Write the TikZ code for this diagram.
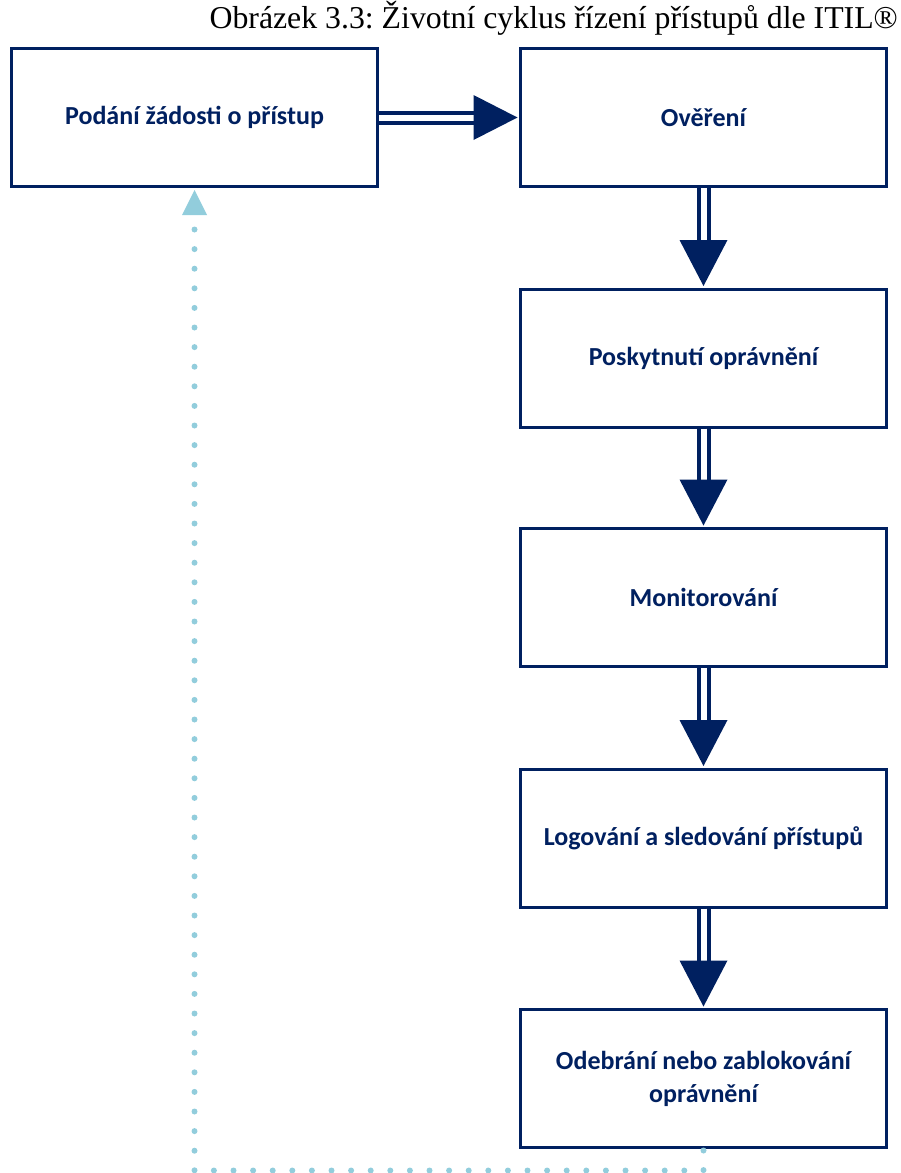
\documentclass[tikz,border=0pt]{standalone}
\usepackage{fontspec}
\setmainfont{Liberation Serif}
\newfontfamily\boxfont{Carlito}
\usetikzlibrary{calc}
\definecolor{navy}{RGB}{0,32,96}
\definecolor{cyanlight}{RGB}{146,205,220}
\frenchspacing
\begin{document}
\begin{tikzpicture}[x=1pt,y=-1pt,
  stepbox/.style={draw=navy,line width=3pt,fill=white,minimum width=366pt,minimum height=138pt,
    inner sep=0pt,align=center,text=navy,font=\boxfont\bfseries\fontsize{26}{33}\selectfont},
  shaft/.style={draw=navy,line width=4pt,double=white,double distance=6pt},
  headfill/.style={fill=navy},
  feedback/.style={draw=cyanlight,line width=6pt,line cap=round,dash pattern=on 0pt off 19.6pt},
]
\useasboundingbox (0,0) rectangle (901,1173);
% caption
\node[anchor=base east,inner sep=0pt,font=\fontsize{31.8}{36}\selectfont] (title) at (898,28)
  {Obrázek 3.3: Životní cyklus řízení přístupů dle ITIL®};
% process steps
\node[stepbox] (b1) at (194.5,117.5) {Podání žádosti o přístup};
\node[stepbox] (b2) at (703.5,117.5) {Ověření};
\node[stepbox] (b3) at (703.5,358) {Poskytnutí oprávnění};
\node[stepbox] (b4) at (703.5,597.5) {Monitorování};
\node[stepbox] (b5) at (703.5,838) {Logování a sledování přístupů};
\node[stepbox] (b6) at (703.5,1078.5) {Odebrání nebo zablokování\\oprávnění};
% horizontal double arrow
\draw[shaft] (b1.east) -- ($(b2.west)+(-45,0)$);
\fill[headfill] ($(b2.west)+(-1.5,0)$) -- ++(-44,-22.5) -- ++(0,45) -- cycle;
% vertical double arrows
\foreach \a/\b in {b2/b3,b3/b4,b4/b5,b5/b6}{
  \draw[shaft] (\a.south) -- ($(\b.north)+(0,-47)$);
  \fill[headfill] ($(\b.north)+(0,-1.5)$) -- ++(-24,-46) -- ++(48,0) -- cycle;
}
% feedback loop
\draw[feedback] ($(b6.south)+(0,1.5)$) -- ++(0,20) coordinate (c1) -| ($(b1.south)+(0,39)$);
\fill[cyanlight] ($(b1.south)+(0,2)$) -- ++(-12.5,25) -- ++(25,0) -- cycle;
\end{tikzpicture}
\end{document}
